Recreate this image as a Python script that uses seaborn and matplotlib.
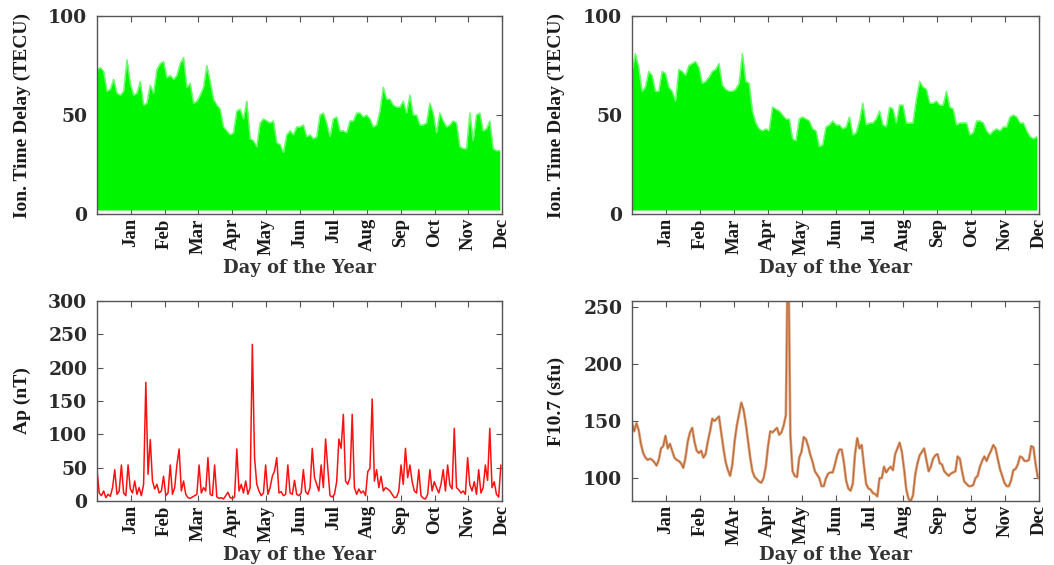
import numpy as np
import pandas as pd
import matplotlib
matplotlib.use("Agg")
import matplotlib.pyplot as plt
import seaborn as sns

# ---------------- data ----------------
month_labels_a = ["Jan", "Feb", "Mar", "Apr", "May", "Jun", "Jul", "Aug", "Sep", "Oct", "Nov", "Dec"]
month_labels_b = ["Jan", "Feb", "MAr", "Apr", "MAy", "Jun", "Jul", "Aug", "Sep", "Oct", "Nov", "Dec"]

# ionospheric time delay: peak value in each 3-day bin (TECU)
tec_days = list(range(0, 366, 3))
tec_peak_left = [
    73, 74, 72, 62, 63, 68, 61, 60, 62, 78, 66, 60, 61, 67, 55, 56, 65, 61, 73, 76,
    77, 69, 70, 68, 70, 76, 79, 64, 66, 56, 57, 60, 64, 75, 67, 58, 55, 53, 44, 42,
    40, 41, 52, 53, 48, 57, 38, 37, 34, 46, 48, 47, 46, 47, 36, 35, 31, 40, 42, 40,
    44, 44, 45, 39, 40, 38, 39, 50, 51, 46, 39, 48, 49, 42, 42, 41, 47, 47, 51, 51,
    49, 50, 48, 44, 45, 52, 64, 58, 58, 55, 54, 54, 57, 51, 60, 50, 50, 45, 45, 46,
    56, 51, 41, 51, 47, 44, 45, 47, 46, 34, 33, 33, 51, 37, 50, 51, 42, 43, 47, 33,
    32, 32]
tec_peak_right = [
    72, 81, 74, 62, 64, 72, 70, 62, 62, 72, 71, 64, 62, 57, 73, 72, 70, 75, 76, 77,
    74, 66, 67, 69, 72, 73, 76, 65, 63, 62, 62, 63, 66, 81, 67, 66, 52, 46, 43, 42,
    43, 42, 54, 53, 52, 50, 48, 48, 38, 37, 48, 49, 48, 47, 43, 42, 34, 35, 44, 45,
    47, 45, 45, 43, 44, 49, 40, 41, 47, 56, 45, 46, 46, 48, 52, 45, 44, 54, 53, 46,
    55, 55, 46, 46, 46, 58, 67, 64, 63, 56, 56, 57, 55, 55, 62, 54, 53, 45, 46, 46,
    46, 40, 41, 47, 47, 46, 42, 40, 42, 43, 42, 44, 44, 49, 50, 49, 46, 46, 42, 39,
    38, 39]
tec_floor = 2.0

# geomagnetic Ap index, 2-day samples (nT)
ap_days = list(range(0, 365, 2))
ap_values = [
    47, 12, 8, 15, 5, 10, 7, 20, 47, 10, 15, 54, 12, 8, 54, 18, 12, 30, 10, 20,
    8, 25, 178, 40, 92, 30, 18, 25, 12, 15, 37, 8, 12, 54, 10, 20, 54, 78, 15, 30,
    10, 5, 4, 6, 8, 10, 54, 12, 20, 15, 65, 10, 8, 54, 6, 4, 5, 3, 8, 13,
    5, 4, 6, 78, 15, 25, 12, 30, 10, 20, 235, 65, 25, 15, 8, 12, 54, 10, 20, 37,
    45, 65, 12, 14, 8, 10, 54, 12, 10, 31, 10, 8, 12, 47, 14, 10, 20, 79, 35, 25,
    15, 54, 20, 93, 49, 8, 6, 10, 29, 93, 79, 130, 30, 25, 35, 130, 20, 10, 18, 12,
    15, 8, 44, 49, 153, 30, 47, 20, 37, 15, 20, 18, 15, 10, 5, 6, 15, 54, 25, 79,
    35, 54, 29, 15, 12, 47, 8, 4, 3, 10, 47, 15, 29, 20, 12, 25, 47, 15, 54, 24,
    18, 109, 20, 17, 12, 15, 10, 65, 24, 15, 29, 10, 47, 12, 20, 54, 31, 109, 20, 29,
    10, 6, 54]

# solar flux F10.7, 2-day samples (sfu)
f107_days = list(range(0, 365, 2))
f107_values = [
    148, 141, 148, 142, 130, 122, 118, 116, 117, 116, 114, 111, 116, 126, 128, 137, 126, 130, 124, 118,
    116, 115, 113, 109, 118, 132, 140, 144, 132, 124, 122, 124, 118, 121, 132, 141, 152, 150, 152, 154,
    140, 126, 114, 107, 102, 112, 132, 146, 156, 166, 160, 148, 133, 118, 106, 101, 99, 97, 96, 100,
    110, 128, 141, 140, 142, 144, 138, 140, 146, 155, 320, 138, 106, 102, 101, 118, 123, 136, 134, 128,
    120, 114, 106, 103, 100, 93, 93, 100, 104, 105, 105, 112, 120, 125, 125, 114, 98, 91, 89, 95,
    121, 135, 126, 129, 111, 95, 91, 90, 87, 86, 84, 100, 100, 110, 105, 108, 110, 107, 121, 126,
    131, 123, 108, 90, 82, 80, 85, 103, 113, 120, 123, 126, 116, 106, 110, 117, 120, 121, 113, 112,
    106, 104, 102, 104, 105, 106, 119, 117, 106, 97, 95, 93, 93, 94, 100, 102, 110, 115, 119, 115,
    120, 124, 129, 126, 117, 108, 102, 96, 93, 93, 98, 107, 108, 112, 119, 118, 115, 115, 116, 128,
    127, 112, 100]

# month-end tick positions (day of year)
month_ticks = [365 / 12 * k for k in range(1, 13)]

# ---------------- style ----------------
sns.set_theme(style="white")
plt.rcParams["font.family"] = ["DejaVu Serif", "DejaVu Sans"]

W, H = 1054, 565
fig = plt.figure(figsize=(W / 100, H / 100), dpi=100)

def frac(l, t, r, b):
    return [l / W, (H - b) / H, (r - l) / W, (b - t) / H]

ax_tl = fig.add_axes(frac(97, 16, 502, 214))
ax_tr = fig.add_axes(frac(632, 16, 1039, 214))
ax_bl = fig.add_axes(frac(97, 301, 502, 501))
ax_br = fig.add_axes(frac(632, 301, 1039, 501))

GREEN = "#00F500"

def draw_tec(ax, peaks):
    ax.fill_between(tec_days, tec_floor, peaks, color=GREEN, lw=0)
    df = pd.DataFrame({"day": tec_days, "tec": peaks})
    sns.lineplot(data=df, x="day", y="tec", ax=ax, color="#66FF66",
                 lw=1.0, estimator=None)

draw_tec(ax_tl, tec_peak_left)
draw_tec(ax_tr, tec_peak_right)

sns.lineplot(x=ap_days, y=ap_values, ax=ax_bl, color="#FF1010", lw=1.1, estimator=None)

sns.lineplot(x=f107_days, y=f107_values, ax=ax_br, color="#D89A72", lw=1.9,
             estimator=None)
sns.lineplot(x=f107_days, y=f107_values, ax=ax_br, color="#A8480F", lw=0.6,
             estimator=None, alpha=0.7)

panels = [
    (ax_tl, "Ion. Time Delay (TECU)", (0, 100), [0, 50, 100], month_labels_a, -0.275),
    (ax_tr, "Ion. Time Delay (TECU)", (0, 100), [0, 50, 100], month_labels_a, -0.275),
    (ax_bl, "Ap (nT)", (0, 300), [0, 50, 100, 150, 200, 250, 300], month_labels_a, -0.27),
    (ax_br, "F10.7 (sfu)", (80, 255), [100, 150, 200, 250], month_labels_b, -0.27),
]

for ax, ylab, ylim, yticks, mlabels, xlab_y in panels:
    ax.set_xlim(0, 365)
    ax.set_ylim(*ylim)
    ax.set_yticks(yticks)
    ax.set_yticklabels([str(v) for v in yticks], fontfamily="DejaVu Serif",
                       fontweight="bold", fontsize=13.5, color="#2a2a2a")
    ax.set_xticks(month_ticks)
    ax.set_xticklabels(mlabels, rotation=90, fontfamily="Liberation Serif",
                       fontweight="bold", fontsize=13.5, color="#1a1a1a")
    ax.tick_params(axis="both", direction="in", length=4, width=0.8, color="#555555",
                   top=True, right=True, bottom=True, left=True)
    ax.tick_params(axis="x", pad=3)
    ax.tick_params(axis="y", pad=7)
    for s in ax.spines.values():
        s.set_color("#555555")
        s.set_linewidth(1.0)
    ax.set_ylabel(ylab, fontfamily="Liberation Serif", fontweight="bold",
                  fontsize=14, color="#1a1a1a", va="center")
    ax.yaxis.set_label_coords(-0.185, 0.5)
    ax.set_xlabel("Day of the Year", fontfamily="DejaVu Serif", fontweight="bold",
                  fontsize=13, color="#333333", va="center")
    ax.xaxis.set_label_coords(0.5, xlab_y)
    ax.grid(False)

fig.savefig("out.png", dpi=100, facecolor="white")
